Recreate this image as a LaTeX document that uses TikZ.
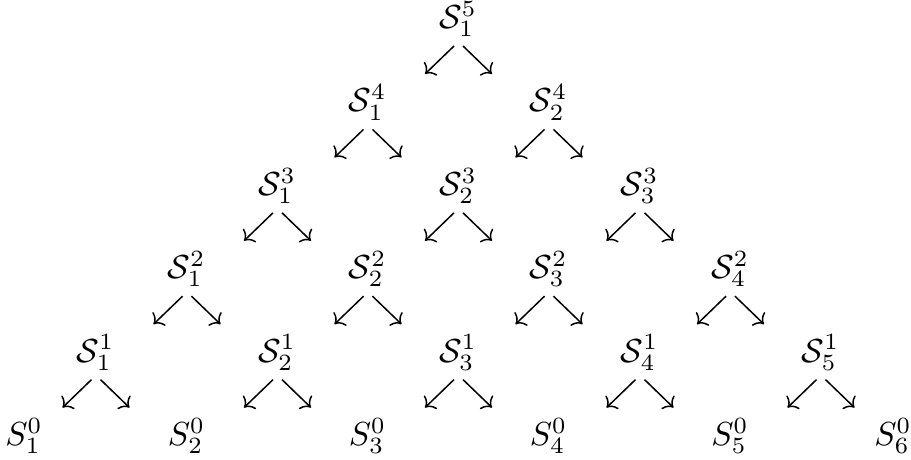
\documentclass[tikz,border=0pt]{standalone}
\usetikzlibrary{arrows.meta}
\begin{document}
\begin{tikzpicture}[x=0.3pt,y=-0.3pt,
  lbl/.style={inner sep=0pt,outer sep=0pt},
  arr/.style={-{Computer Modern Rightarrow[length=2.5pt,width=5.6pt]},line width=0.45pt}]
\useasboundingbox (0,0) rectangle (911,459);
\def\cols{{24,95.5,186.5,277,367.5,458,548.5,639.5,730,820.5,893}}
\foreach \j in {0,...,5}{
  \pgfmathtruncatemacro\n{6-\j}
  \foreach \i in {1,...,\n}{
    \pgfmathtruncatemacro\c{\j+2*(\i-1)}
    \pgfmathsetmacro\xx{\cols[\c]}
    \pgfmathsetmacro\yy{436-83.4*\j}
    \ifnum\j=0
      \node[lbl] (s\j-\i) at (\xx,\yy) {$S_{\i}^{\j}$};
    \else
      \node[lbl] (s\j-\i) at (\xx,\yy) {$\mathcal{S}_{\i}^{\j}$};
      \draw[arr] ([shift={(-4,27)}]s\j-\i.center) -- ++(-29,28);
      \draw[arr] ([shift={(5,27)}]s\j-\i.center) -- ++(29,28);
    \fi
  }
}
\end{tikzpicture}
\end{document}
